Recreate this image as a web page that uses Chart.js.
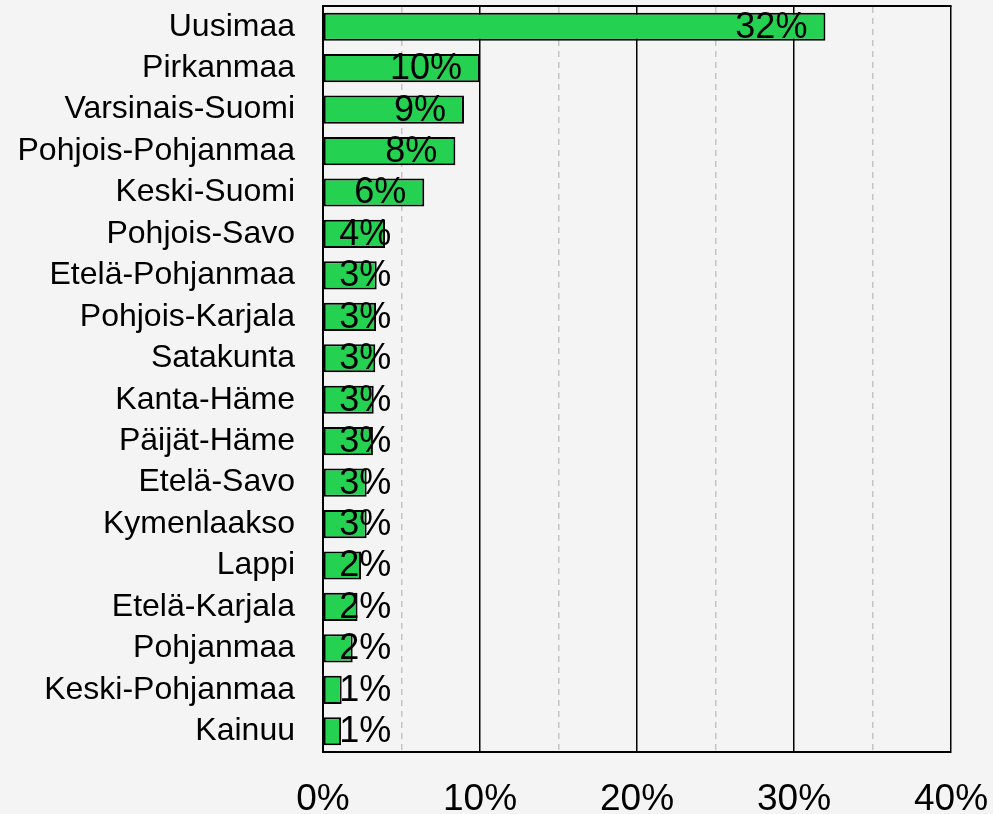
<!DOCTYPE html>
<html>
<head>
<meta charset="utf-8">
<script src="https://cdn.jsdelivr.net/npm/chart.js@4/dist/chart.umd.min.js"></script>
<style>
  html, body { margin: 0; padding: 0; background: #f4f4f4; }
  #wrap { width: 993px; height: 814px; }
</style>
</head>
<body>
<div id="wrap"><canvas id="chart"></canvas></div>
<script>
const regions = ['Uusimaa', 'Pirkanmaa', 'Varsinais-Suomi', 'Pohjois-Pohjanmaa', 'Keski-Suomi',
    'Pohjois-Savo', 'Etelä-Pohjanmaa', 'Pohjois-Karjala', 'Satakunta', 'Kanta-Häme',
    'Päijät-Häme', 'Etelä-Savo', 'Kymenlaakso', 'Lappi', 'Etelä-Karjala', 'Pohjanmaa',
    'Keski-Pohjanmaa', 'Kainuu'];
const shares = [32.0, 10.0, 8.98, 8.43, 6.45, 3.95, 3.42, 3.38, 3.33, 3.23, 3.18, 2.78, 2.78,
    2.42, 2.2, 1.89, 1.19, 1.15];
const xMin = 0;
const xMax = 40;
const majorStep = 10;
const minorStep = 5;

const FONT = "'Liberation Sans', Arial, sans-serif";

// value labels, right aligned just inside the bar end (pushed out for short bars)
const valueLabels = {
    id: 'valueLabels',
    afterDatasetsDraw(chart) {
        const ctx = chart.ctx;
        const xs = chart.scales.x;
        const meta = chart.getDatasetMeta(0);
        ctx.save();
        ctx.font = '36px ' + FONT;
        ctx.fillStyle = '#000';
        ctx.textAlign = 'right';
        ctx.textBaseline = 'middle';
        meta.data.forEach((bar, i) => {
            const right = Math.max(bar.x, xs.getPixelForValue(5.5)) - 18;
            ctx.fillText(Math.round(shares[i]) + '%', right, bar.y + 1);
        });
        ctx.restore();
    }
};

new Chart(document.getElementById('chart'), {
    type: 'bar',
    data: {
        labels: regions,
        datasets: [{
            data: shares,
            backgroundColor: '#25d150',
            borderColor: '#000',
            borderWidth: 2,
            borderSkipped: false,
            categoryPercentage: 1,
            barPercentage: 0.68,
            xAxisID: 'x'
        }]
    },
    options: {
        indexAxis: 'y',
        responsive: true,
        maintainAspectRatio: false,
        animation: false,
        layout: { padding: { left: 20, right: 42, top: 6, bottom: 0 } },
        plugins: {
            legend: { display: false },
            tooltip: { enabled: false }
        },
        scales: {
            x: {
                position: 'bottom',
                min: xMin,
                max: xMax,
                ticks: {
                    stepSize: majorStep,
                    padding: 26,
                    maxRotation: 0,
                    color: '#000',
                    font: { family: FONT, size: 37 },
                    callback: (v) => v + '%'
                },
                grid: { color: '#000', lineWidth: 1.5, drawTicks: false },
                border: { display: true, color: '#000', width: 2 },
                afterFit: (s) => { s.height = 62; s.paddingLeft = 0; s.paddingRight = 0; }
            },
            x2: {
                position: 'top',
                min: xMin,
                max: xMax,
                ticks: { display: false, stepSize: minorStep },
                grid: {
                    drawTicks: false,
                    lineWidth: 1.5,
                    color: (c) => (c.tick && c.tick.value % majorStep !== 0) ? '#c4c4c4' : 'rgba(0,0,0,0)'
                },
                border: { display: true, color: '#000', width: 2, dash: [6, 5] },
                afterFit: (s) => { s.height = 0; s.paddingLeft = 0; s.paddingRight = 0; }
            },
            y: {
                ticks: {
                    autoSkip: false,
                    padding: 28,
                    color: '#000',
                    font: { family: FONT, size: 32 }
                },
                grid: { display: false, drawTicks: false },
                border: { display: true, color: '#000', width: 2 },
                afterFit: (s) => { s.width = 303; s.paddingTop = 0; s.paddingBottom = 0; }
            }
        }
    },
    plugins: [valueLabels]
});
</script>
</body>
</html>
